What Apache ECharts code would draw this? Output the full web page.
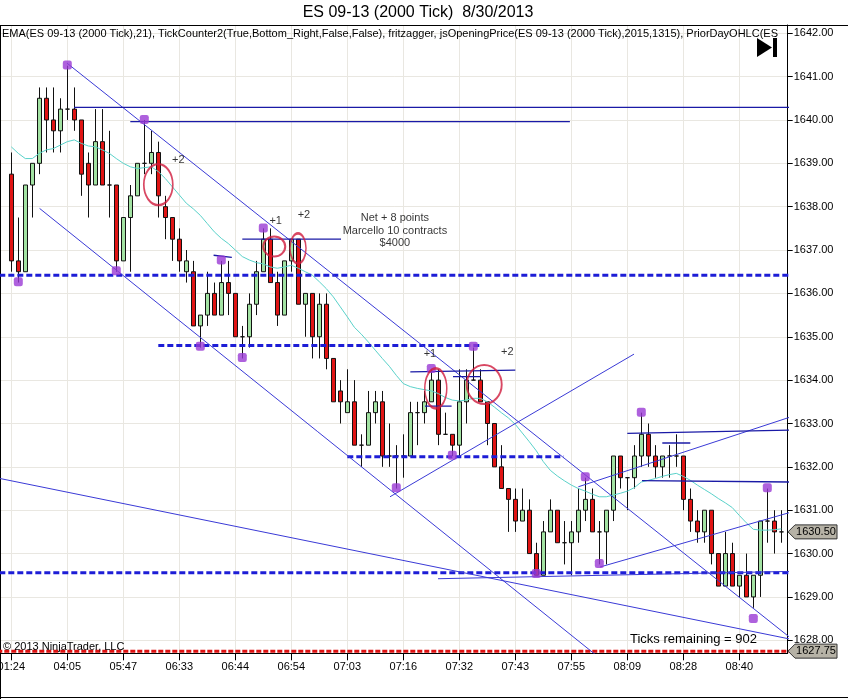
<!DOCTYPE html>
<html><head><meta charset="utf-8">
<script src="https://cdn.jsdelivr.net/npm/echarts@6/dist/echarts.min.js"></script>
<style>html,body{margin:0;padding:0;background:#fff}#c{width:848px;height:699px}</style>
</head><body><div id="c"></div>
<script>
// ---------- data ----------
const chartTitle = 'ES 09-13 (2000 Tick)  8/30/2013';
const indicatorText = 'EMA(ES 09-13 (2000 Tick),21), TickCounter2(True,Bottom_Right,False,False), fritzagger, jsOpeningPrice(ES 09-13 (2000 Tick),2015,1315), PriorDayOHLC(ES 09-13 (2000 Tick))';
const timeLabels = ['01:24','04:05','05:47','06:33','06:44','06:54','07:03','07:16','07:32','07:43','07:55','08:09','08:28','08:40'];
const barsPerLabel = 8;
const opens = [1638.75,1636.75,1636.5,1638.5,1639.0,1640.5,1640.0,1639.75,1640.25,1640.25,
 1640.0,1639.0,1638.5,1639.5,1638.5,1638.5,1636.75,1637.75,1638.25,1639.0,
 1639.0,1639.25,1638.0,1637.75,1637.25,1636.5,1636.5,1635.25,1635.5,1636.0,
 1635.5,1636.25,1636.0,1635.0,1635.0,1635.75,1636.5,1637.25,1636.25,1635.5,
 1636.75,1637.25,1635.75,1636.0,1635.0,1635.75,1634.5,1633.75,1633.25,1633.5,
 1632.5,1632.5,1633.25,1633.5,1632.25,1632.25,1632.25,1632.25,1633.25,1633.25,
 1633.5,1634.0,1632.75,1632.75,1632.5,1633.5,1634.0,1634.0,1633.5,1633.0,
 1632.0,1631.5,1631.25,1630.75,1631.0,1630.0,1629.5,1630.5,1631.0,1630.25,
 1630.25,1630.5,1631.0,1631.25,1630.5,1630.5,1631.0,1632.25,1631.75,1631.75,
 1632.25,1632.75,1632.25,1632.0,1632.25,1632.25,1632.25,1631.25,1630.75,1630.5,
 1631.0,1630.0,1629.25,1630.0,1629.25,1629.5,1629.0,1629.5,1630.75,1630.75,1630.5];
const closes = [1636.75,1636.5,1638.5,1639.0,1640.5,1640.0,1639.75,1640.25,1640.25,1640.0,
 1638.75,1638.5,1639.5,1638.5,1638.5,1636.75,1637.75,1638.25,1639.0,1639.0,
 1639.25,1638.25,1637.75,1637.25,1636.75,1636.75,1635.25,1635.5,1636.0,1635.5,
 1636.25,1636.0,1635.0,1635.0,1635.75,1636.5,1637.25,1636.25,1635.5,1636.75,
 1637.25,1635.75,1636.0,1635.0,1635.75,1634.5,1633.5,1633.5,1633.5,1632.5,
 1632.5,1633.25,1633.5,1632.25,1632.25,1632.25,1632.25,1633.25,1633.25,1633.5,
 1634.0,1632.75,1632.75,1632.5,1633.5,1634.0,1634.0,1633.5,1633.0,1632.0,
 1631.5,1631.25,1630.75,1631.0,1630.0,1629.5,1630.5,1631.0,1630.25,1630.25,
 1630.5,1631.0,1631.25,1630.5,1630.5,1631.0,1632.25,1631.75,1631.75,1632.25,
 1632.75,1632.25,1632.0,1632.25,1632.25,1632.25,1631.25,1630.75,1630.5,1631.0,
 1630.0,1629.25,1630.0,1629.25,1629.5,1629.0,1629.5,1630.75,1630.75,1630.5,1630.5];
const lows = [1636.5,1636.25,1636.5,1637.75,1638.75,1639.25,1639.25,1639.25,1640.0,1639.75,
 1638.25,1637.75,1638.5,1638.5,1637.75,1636.5,1636.75,1636.5,1638.25,1638.75,
 1638.75,1637.75,1637.25,1636.75,1636.5,1636.25,1635.25,1634.75,1635.25,1635.5,
 1635.5,1635.5,1635.0,1634.5,1634.75,1635.5,1636.5,1636.25,1635.25,1635.5,
 1636.5,1635.75,1635.0,1634.5,1634.5,1634.25,1633.5,1633.0,1633.25,1632.5,
 1632.0,1632.5,1633.0,1632.0,1632.0,1631.5,1631.75,1632.25,1632.5,1633.0,
 1633.5,1632.5,1632.75,1632.25,1632.25,1633.0,1634.0,1633.5,1632.5,1632.0,
 1631.5,1630.5,1630.5,1630.75,1630.0,1629.5,1629.5,1630.5,1630.25,1629.75,
 1629.5,1630.25,1630.75,1630.5,1629.75,1629.75,1630.75,1631.5,1631.0,1631.5,
 1632.0,1632.0,1631.75,1631.75,1631.75,1632.0,1631.0,1630.5,1630.25,1630.25,
 1629.75,1629.25,1629.25,1629.25,1629.0,1629.0,1628.75,1629.0,1630.25,1630.0,1630.25];
const highs = [1639.25,1637.75,1638.5,1639.0,1640.75,1640.75,1640.75,1640.5,1641.25,1640.75,
 1640.0,1639.25,1640.25,1640.25,1639.75,1638.5,1637.75,1638.5,1639.0,1640.0,
 1639.75,1639.5,1638.25,1637.75,1637.5,1637.0,1636.75,1635.5,1636.5,1636.25,
 1636.75,1636.75,1636.0,1635.25,1636.0,1636.75,1637.5,1637.5,1636.5,1636.75,
 1637.25,1637.25,1636.0,1636.0,1636.0,1636.0,1634.5,1634.0,1634.25,1634.0,
 1632.75,1633.75,1633.75,1633.75,1633.0,1632.5,1632.75,1633.5,1633.5,1633.75,
 1634.25,1634.25,1633.25,1632.75,1634.25,1634.25,1634.75,1634.25,1633.5,1633.0,
 1632.5,1631.5,1631.5,1631.5,1631.25,1630.25,1630.75,1631.25,1631.0,1630.75,
 1630.75,1631.5,1631.75,1631.5,1630.75,1631.0,1632.25,1632.25,1631.75,1632.5,
 1633.25,1633.0,1632.5,1632.25,1632.5,1632.75,1632.25,1631.5,1631.0,1631.0,
 1631.0,1630.0,1630.5,1630.25,1629.5,1630.0,1629.5,1630.75,1631.5,1631.0,1631.0];
const ema21 = [1639.38,1639.23,1639.11,1639.11,1639.23,1639.31,1639.34,1639.42,1639.50,1639.54,
 1639.46,1639.40,1639.38,1639.31,1639.23,1639.11,1639.00,1638.92,1638.88,1638.90,
 1638.92,1638.81,1638.65,1638.46,1638.27,1638.08,1637.95,1637.80,1637.61,1637.42,
 1637.27,1637.15,1637.00,1636.85,1636.77,1636.71,1636.68,1636.61,1636.58,1636.61,
 1636.65,1636.58,1636.50,1636.42,1636.27,1636.11,1635.92,1635.69,1635.46,1635.22,
 1635.06,1634.88,1634.69,1634.50,1634.32,1634.11,1633.92,1633.85,1633.81,1633.78,
 1633.75,1633.69,1633.60,1633.54,1633.52,1633.54,1633.58,1633.58,1633.50,1633.38,
 1633.25,1633.13,1632.98,1632.78,1632.58,1632.37,1632.12,1631.92,1631.79,1631.68,
 1631.58,1631.50,1631.44,1631.37,1631.31,1631.31,1631.35,1631.39,1631.44,1631.52,
 1631.65,1631.69,1631.73,1631.78,1631.82,1631.85,1631.78,1631.69,1631.58,1631.48,
 1631.38,1631.27,1631.17,1631.06,1630.88,1630.71,1630.56,1630.54,1630.54,1630.55,1630.57];
// swing markers [bar, price]
const swingDots = [[1,1636.27],[8,1641.27],[15,1636.52],[19,1640.01],[27,1634.78],[30,1636.77],
 [33,1634.52],[36,1637.51],[55,1631.52],[60,1634.27],[63,1632.27],[66,1634.78],[75,1629.54],
 [82,1631.77],[84,1629.77],[90,1633.26],[106,1628.5],[108,1631.52]];
// dashed levels [fromBar, toBar, price]
const blueDashedLevels = [[-3,112,1636.42],[21,67,1634.80],[48,78.9,1632.23],[-3,112,1629.56]];
const priorDayLow = 1627.75;
// drawn trend lines [[bar, price],[bar, price]]
const trendLines = [
 [[7.96,1641.31],[111.5,1628.03]],
 [[4.04,1637.96],[83.6,1627.65]],
 [[54.1,1631.31],[88.96,1634.60]],
 [[81.0,1631.54],[111.5,1633.16]],
 [[84.1,1629.69],[111.5,1630.96]],
 [[60.96,1629.42],[111.5,1629.59]],
 [[-2.5,1631.76],[111.5,1628.02]]
];
const levelLines = [
 [[8.96,1640.29],[111.5,1640.29]],
 [[17.0,1639.96],[79.8,1639.96]],
 [[33.0,1637.25],[47.1,1637.25]],
 [[28.9,1636.88],[31.5,1636.83]],
 [[57.0,1634.19],[72.0,1634.23]],
 [[63.1,1634.08],[67.1,1634.08]],
 [[59.1,1633.40],[62.9,1633.40]],
 [[88.0,1632.77],[111.5,1632.85]],
 [[93.0,1632.55],[97.0,1632.55]],
 [[90.1,1631.68],[111.5,1631.65]]
];
// trade circles [bar, price]
const tradeCircles = [[21.0,1638.51],[37.56,1637.08],[40.96,1637.04],[60.64,1633.81],[67.56,1633.90]];
// notes [bar, price, text]
const notes = [[23.86,1639.07,'+2'],[37.77,1637.68,'+1'],[41.8,1637.81,'+2'],
 [54.8,1637.73,'Net + 8 points'],[54.8,1637.43,'Marcello 10 contracts'],[54.8,1637.16,'$4000'],
 [59.8,1634.60,'+1'],[70.86,1634.65,'+2']];
const ticksRemaining = 902;
const copyrightText = '\u00a9 2013 NinjaTrader, LLC';

// ---------- chart ----------
const FONT = '"Liberation Sans", Arial, sans-serif';
const chart = echarts.init(document.getElementById('c'), null, {renderer: 'canvas'});
const N = opens.length;
const categories = opens.map((_, i) => String(i));
const candleData = opens.map((o, i) => [o, closes[i], lows[i], highs[i]]);
const yMin = 1627.70, yMax = 1642.19;
const gridColor = '#e9e7e1';
const circleSizes = [[29,41],[22,20],[16,30],[22,40],[35,39]];

const series = [];
series.push({
  type: 'candlestick', xAxisIndex: 0, yAxisIndex: 0, barWidth: 5, z: 3,
  data: candleData,
  itemStyle: {color: '#a2e2a2', color0: '#e01414', borderColor: '#111', borderColor0: '#111', borderColorDoji: '#111', borderWidth: 1}
});
series.push({
  type: 'line', xAxisIndex: 1, yAxisIndex: 1, symbol: 'none', z: 4,
  data: ema21.map((v, i) => [i, v]),
  lineStyle: {color: '#5ad2ca', width: 1}
});
blueDashedLevels.forEach(l => series.push({
  type: 'line', xAxisIndex: 1, yAxisIndex: 1, symbol: 'none', z: 5,
  data: [[l[0], l[2]], [l[1], l[2]]],
  lineStyle: {color: '#1d1dd6', width: 3, type: [6, 3]}
}));
series.push({
  type: 'line', xAxisIndex: 1, yAxisIndex: 1, symbol: 'none', z: 5,
  data: [[-3, priorDayLow], [112, priorDayLow]],
  lineStyle: {color: '#dd1111', width: 3, type: [5, 2]}
});
trendLines.forEach(l => series.push({
  type: 'line', xAxisIndex: 1, yAxisIndex: 1, symbol: 'none', z: 5,
  data: l, lineStyle: {color: '#3a3ad6', width: 1}
}));
levelLines.forEach(l => series.push({
  type: 'line', xAxisIndex: 1, yAxisIndex: 1, symbol: 'none', z: 5,
  data: l, lineStyle: {color: '#1a1aa6', width: 1.3}
}));
series.push({
  type: 'scatter', xAxisIndex: 1, yAxisIndex: 1, z: 6, symbol: 'roundRect', symbolSize: 9,
  data: swingDots, itemStyle: {color: '#9a3ad4'}
});
series.push({
  type: 'scatter', xAxisIndex: 1, yAxisIndex: 1, z: 6, symbol: 'circle',
  data: tradeCircles.map((c, k) => ({value: c, symbolSize: circleSizes[k]})),
  itemStyle: {color: 'rgba(0,0,0,0)', borderColor: '#d01a3c', borderWidth: 2}
});
series.push({
  type: 'scatter', xAxisIndex: 1, yAxisIndex: 1, z: 7, symbolSize: 0,
  data: notes.map(n => ({value: [n[0], n[1]], name: n[2]})),
  label: {show: true, position: 'inside', formatter: '{b}', color: '#000', fontSize: 11, fontFamily: FONT}
});

const option = {
  animation: false,
  backgroundColor: '#fff',
  grid: [
    {left: 7.8, right: 63.2, top: 25, bottom: 45.7, show: false},
    {left: 0.5, right: 60.3, top: 25, bottom: 45.7, show: false}
  ],
  xAxis: [
    {type: 'category', gridIndex: 0, data: categories, boundaryGap: true,
     axisLine: {show: false},
     axisTick: {show: true, alignWithLabel: true, interval: barsPerLabel - 1, length: 7, lineStyle: {color: '#000'}},
     axisLabel: {show: true, interval: barsPerLabel - 1, margin: 8, color: '#000', fontSize: 11, fontFamily: FONT,
       formatter: (v, idx) => idx === 0 ? '' : (timeLabels[idx / barsPerLabel] || '')},
     splitLine: {show: true, interval: barsPerLabel - 1, alignWithLabel: true, lineStyle: {color: gridColor, width: 1}}},
    {type: 'value', gridIndex: 1, min: -1.543, max: 110.914,
     axisLine: {show: true, onZero: false, lineStyle: {color: '#000', width: 1}},
     axisTick: {show: false}, axisLabel: {show: false}, splitLine: {show: false}}
  ],
  yAxis: [
    {type: 'value', gridIndex: 0, min: yMin, max: yMax, show: false},
    {type: 'value', gridIndex: 1, position: 'right', min: yMin, max: yMax, splitNumber: 14,
     axisLine: {show: true, onZero: false, lineStyle: {color: '#000', width: 1}},
     axisTick: {show: true, length: 5, lineStyle: {color: '#000'}},
     axisLabel: {show: true, margin: 6, color: '#000', fontSize: 11, fontFamily: FONT,
       showMinLabel: false, showMaxLabel: false, formatter: v => v.toFixed(2)},
     splitLine: {show: true, lineStyle: {color: gridColor, width: 1}}}
  ],
  series: series
};
chart.setOption(option);

// ---------- overlay texts / frame / price flags ----------
const yOf = p => chart.convertToPixel({yAxisIndex: 1}, p);
function flag(price, fill) {
  const y = yOf(price);
  return [
    {type: 'polygon', z: 100, shape: {points: [[788, y], [795, y - 7], [837, y - 7], [837, y + 7], [795, y + 7]]},
     style: {fill: fill, stroke: '#333', lineWidth: 1}},
    {type: 'text', z: 101, x: 816, y: y, style: {text: price.toFixed(2), fill: '#000', font: '11px ' + FONT, align: 'center', verticalAlign: 'middle'}}
  ];
}
const lastClose = closes[N - 1];
const firstLabelX = chart.convertToPixel({xAxisIndex: 0}, 0);
chart.setOption({
  graphic: [
    {type: 'text', x: 418, y: 13, style: {text: chartTitle, fill: '#000', font: '16px ' + FONT, align: 'center', verticalAlign: 'middle'}},
    {type: 'line', shape: {x1: 0, y1: 25.5, x2: 848, y2: 25.5}, style: {stroke: '#000', lineWidth: 1}},
    {type: 'line', shape: {x1: 0.5, y1: 25, x2: 0.5, y2: 699}, style: {stroke: '#000', lineWidth: 1}},
    {type: 'line', shape: {x1: 0, y1: 697.5, x2: 848, y2: 697.5}, style: {stroke: '#000', lineWidth: 1}},
    {type: 'text', z: 50, x: firstLabelX, y: 667, style: {text: timeLabels[0], fill: '#000', font: '11px ' + FONT, align: 'center', verticalAlign: 'middle'}},
    {type: 'text', z: 50, x: 2, y: 34, style: {text: indicatorText, fill: '#000', font: '11px ' + FONT, verticalAlign: 'middle', width: 784, overflow: 'truncate', ellipsis: ''}},
    {type: 'polygon', z: 60, shape: {points: [[757, 38], [757, 57], [772, 47.5]]}, style: {fill: '#000'}},
    {type: 'rect', z: 60, shape: {x: 773, y: 38, width: 4, height: 19}, style: {fill: '#000'}},
    {type: 'text', z: 50, x: 757, y: 639, style: {text: 'Ticks remaining = ' + ticksRemaining, fill: '#000', font: '13px ' + FONT, align: 'right', verticalAlign: 'middle'}},
    {type: 'text', z: 50, x: 3, y: 647, style: {text: copyrightText, fill: '#000', font: '11px ' + FONT, verticalAlign: 'middle'}},
    ...flag(lastClose, '#b6b2a6'),
    ...flag(priorDayLow, '#b6b2a6')
  ]
});
</script>
</body></html>
